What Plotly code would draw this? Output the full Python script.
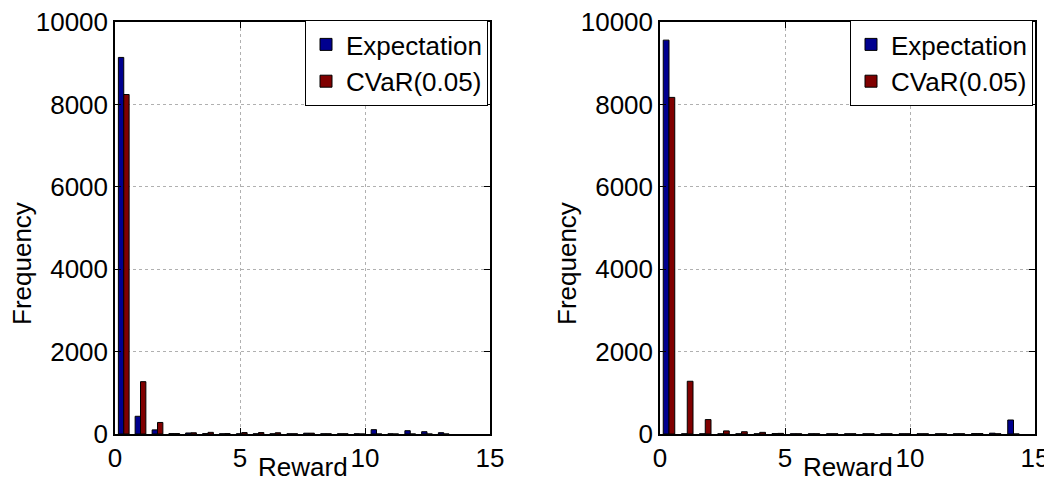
import plotly.graph_objects as go

# ---- data ----
left_centers = [0.35, 1.02, 1.70, 2.37, 3.04, 3.72, 4.39, 5.07, 5.74, 6.41,
                7.09, 7.76, 8.44, 9.11, 9.78, 10.46, 11.13, 11.81, 12.48, 13.15]
left_expectation = [9140, 430, 100, 10, 25, 10, 5, 5, 5, 5,
                    5, 20, 5, 5, 5, 105, 5, 80, 56, 32]
left_cvar = [8240, 1270, 280, 10, 30, 40, 10, 35, 35, 30,
             5, 20, 5, 5, 0, 0, 0, 0, 0, 0]

right_centers = [0.36, 1.09, 1.81, 2.54, 3.26, 3.99, 4.71, 5.44, 6.16, 6.89,
                 7.61, 8.34, 9.06, 9.79, 10.51, 11.24, 11.96, 12.69, 13.41, 14.14]
right_expectation = [9560, 5, 5, 5, 5, 5, 10, 5, 5, 5,
                     5, 5, 5, 5, 5, 5, 5, 10, 20, 340]
right_cvar = [8170, 1280, 350, 75, 55, 40, 15, 5, 5, 5,
              5, 5, 5, 5, 5, 5, 5, 10, 5, 0]

series_names = ["Expectation", "CVaR(0.05)"]
x_ticks = [0, 5, 10, 15]
x_tick_labels = ["0", "5", "10", "15"]
y_ticks = [0, 2000, 4000, 6000, 8000, 10000]
y_tick_labels = ["0", "2000", "4000", "6000", "8000", "10000"]
x_title = "Reward"
y_title = "Frequency"

BLUE = "#00008F"
RED = "#800000"
FONT = "Liberation Sans, Arial, sans-serif"

# the page body adds an 8px margin; the figure is sized to fill the rest
OFF = 8
W, H = 1052 - OFF, 485 - OFF


def px(xr):
    return (xr - OFF) / W


def py(yr):
    return (H - (yr - OFF)) / H


fig = go.Figure()


def add_pair(xs, e, c, xa, ya, leg):
    fig.add_trace(go.Bar(x=xs, y=e, name=series_names[0], marker_color=BLUE,
                         marker_line=dict(color="black", width=1),
                         xaxis=xa, yaxis=ya, legend=leg))
    fig.add_trace(go.Bar(x=xs, y=c, name=series_names[1], marker_color=RED,
                         marker_line=dict(color="black", width=1),
                         xaxis=xa, yaxis=ya, legend=leg))


add_pair(left_centers, left_expectation, left_cvar, "x", "y", "legend")
add_pair(right_centers, right_expectation, right_cvar, "x2", "y2", "legend2")

ydom = [py(434), py(22)]
axis_common = dict(showline=True, linecolor="black", linewidth=1.5, mirror="ticks",
                   ticks="inside", ticklen=6, tickcolor="black", tickwidth=1,
                   showgrid=True, gridcolor="#b0b0b0", griddash="dot", gridwidth=1,
                   zeroline=False, automargin=False, ticklabeloverflow="allow",
                   tickfont=dict(family=FONT, size=26, color="black"))

legend_common = dict(xanchor="right", yanchor="top", y=py(20),
                     bgcolor="white", bordercolor="black", borderwidth=1,
                     font=dict(family=FONT, size=26, color="black"),
                     tracegroupgap=0, itemwidth=30)

fig.update_layout(
    template="none",
    width=W, height=H,
    margin=dict(l=0, r=0, t=0, b=0, autoexpand=False),
    paper_bgcolor="white", plot_bgcolor="white",
    barmode="group", bargap=0.36, bargroupgap=0,
    xaxis=dict(domain=[px(115), px(490)], range=[0, 15], tickvals=x_ticks,
               ticktext=x_tick_labels, anchor="y", **axis_common),
    yaxis=dict(domain=ydom, range=[0, 10000], tickvals=y_ticks,
               ticktext=y_tick_labels, anchor="x", **axis_common),
    xaxis2=dict(domain=[px(660), px(1035)], range=[0, 15], tickvals=x_ticks,
                ticktext=x_tick_labels, anchor="y2", **axis_common),
    yaxis2=dict(domain=ydom, range=[0, 10000], tickvals=y_ticks,
                ticktext=y_tick_labels, anchor="x2", **axis_common),
    legend=dict(x=px(488), **legend_common),
    legend2=dict(x=px(1033), **legend_common),
)

for xc in [(115 + 490) / 2, (660 + 1035) / 2]:
    fig.add_annotation(text=x_title, x=px(xc), y=py(467), xref="paper", yref="paper",
                       showarrow=False, xanchor="center", yanchor="middle",
                       font=dict(family=FONT, size=26, color="black"))
for xc in [22, 567]:
    fig.add_annotation(text=y_title, x=px(xc), y=py(264), xref="paper", yref="paper",
                       showarrow=False, xanchor="center", yanchor="middle", textangle=-90,
                       font=dict(family=FONT, size=26, color="black"))

fig.write_html("out.html")
